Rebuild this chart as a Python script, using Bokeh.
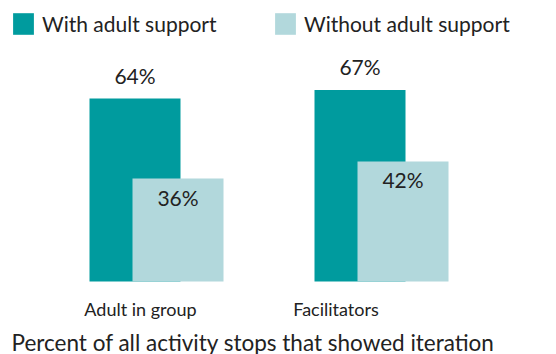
from bokeh.plotting import figure
from bokeh.models import Range1d, ColumnDataSource, Legend, LegendItem, Label
from bokeh.transform import dodge
from bokeh.embed import file_html
from bokeh.resources import INLINE
from bokeh.core.properties import value

# Data
groups = ["Adult in group", "Facilitators"]
with_support = [64, 67]
without_support = [36, 42]
series_names = ["With adult support", "Without adult support"]
chart_title = "Percent of all activity stops that showed iteration"

# Styling
W, H = 556, 354
FONT = "Lato"
TEAL = "#009B9E"
LIGHT = "#B2D8DC"
INK = "#222222"

# Layout: one group spans 225 px horizontally, 1 % is 2.86 px vertically
px_per_group = 225.0
px_per_pct = 2.86
group0_px = 156.0
baseline_px = 281.0

x_start = -group0_px / px_per_group
x_end = x_start + W / px_per_group
y_end = baseline_px / px_per_pct
y_start = -(H - baseline_px) / px_per_pct

bar_w = 91 / px_per_group
shift = 21.5 / px_per_group
label_shift_px = [-16, -45.5]

idx = list(range(len(groups)))
src = ColumnDataSource(dict(
    x=idx,
    x_label=[i + s / px_per_group for i, s in zip(idx, label_shift_px)],
    with_support=with_support,
    without_support=without_support,
    with_text=[f"{v}%" for v in with_support],
    without_text=[f"{v}%" for v in without_support],
    zero=[0] * len(groups),
    group=groups,
))

p = figure(width=W, height=H, x_range=Range1d(x_start, x_end),
           y_range=Range1d(y_start, y_end), output_backend="svg",
           toolbar_location=None, min_border=0, outline_line_color=None,
           x_axis_location=None, y_axis_location=None)
p.grid.visible = False

# Bars: the lighter series sits in front, shifted right
r_with = p.vbar(x=dodge("x", -shift), top="with_support", bottom=0, width=bar_w,
                source=src, fill_color=TEAL, line_color=None)
r_without = p.vbar(x=dodge("x", shift), top="without_support", bottom=0, width=bar_w,
                   source=src, fill_color=LIGHT, line_color=None)

# Value labels
p.text(x=dodge("x", -shift), y="with_support", text="with_text", source=src,
       text_align="center", text_baseline="alphabetic", y_offset=-23,
       text_font=value(FONT), text_font_size="21px", text_color=INK)
p.text(x=dodge("x", shift), y="without_support", text="without_text", source=src,
       text_align="center", text_baseline="top", y_offset=6,
       text_font=value(FONT), text_font_size="21px", text_color=INK)

# Category labels under the bars
p.text(x="x_label", y="zero", text="group", source=src,
       text_align="center", text_baseline="alphabetic", y_offset=27,
       text_font=value(FONT), text_font_size="18px", text_color=INK)

# Caption along the bottom
p.add_layout(Label(x=11, y=-1, x_units="screen", y_units="screen", text=chart_title,
                   text_font=FONT, text_font_size="22.5px", text_color=INK,
                   text_baseline="bottom"))

# Legends, one per series, placed side by side across the top
for name, r, lx in zip(series_names, [r_with, r_without], [10, 272]):
    leg = Legend(items=[LegendItem(label=name, renderers=[r], index=0)], location=(lx, 317),
                 orientation="horizontal", glyph_width=26, glyph_height=27,
                 label_standoff=6, padding=0, margin=0, border_line_color=None,
                 background_fill_alpha=0, label_text_font=FONT,
                 label_text_font_size="21px", label_text_color=INK)
    p.add_layout(leg)

open("out.html", "w").write(file_html(p, INLINE))
